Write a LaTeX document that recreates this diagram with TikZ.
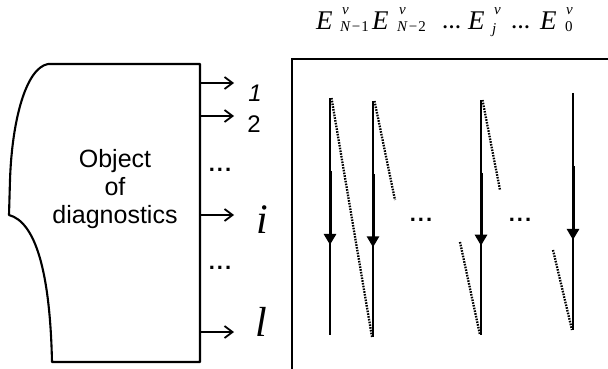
\documentclass[tikz,border=0pt]{standalone}
\usepackage{fontspec}
\setmainfont{Liberation Serif}
\newfontfamily\arialf{Liberation Sans}
\usetikzlibrary{arrows.meta,calc}
\tikzset{
  shapeline/.style={line width=2.1pt, line join=round},
  outarrow/.style={line width=1.8pt, -{Straight Barb[length=8pt,width=12pt,line width=1.8pt]}},
  vline/.style={line width=2.4pt},
  varrow/.style={line width=3pt, -{Triangle[length=11pt,width=12pt]}},
  dotline/.style={line width=2.3pt, dash pattern=on 1.6pt off 1.2pt},
  bigE/.style={anchor=base west, inner sep=0pt, font=\fontsize{27}{27}\selectfont\itshape},
  scr/.style={anchor=base west, inner sep=0pt, font=\fontsize{15}{15}\selectfont},
  hdots/.style={anchor=base west, inner sep=0pt, font=\bfseries\fontsize{19}{19}\selectfont},
  outlab/.style={inner sep=0pt, font=\arialf\fontsize{24}{24}\selectfont},
  biglab/.style={inner sep=0pt, font=\fontsize{42}{42}\selectfont\itshape},
  sdots/.style={inner sep=0pt, font=\arialf\bfseries\fontsize{22}{22}\selectfont},
}
\begin{document}
\begin{tikzpicture}[x=1pt,y=-1pt]
\useasboundingbox (0,0) rectangle (608,369);
% left shape (object of diagnostics)
\draw[shapeline] (48,64) -- (200,64) -- (200,362) -- (52,362)
  .. controls (50,270) and (35,222) .. (9,215) -- (10,180)
  .. controls (12,120) and (26,68) .. (48,64);
\node[inner sep=0pt, align=center, font=\arialf\fontsize{25}{28}\selectfont] (obj) at (115,189)
  {Object\\of\\diagnostics};
% output arrows
\coordinate (o1) at (200,83);
\coordinate (o2) at (200,116);
\coordinate (oi) at (200,215);
\coordinate (ol) at (200,332);
\coordinate (t1) at (234,83);
\coordinate (t2) at (234,116);
\coordinate (ti) at (234,215);
\coordinate (tl) at (234,332);
\draw[outarrow] (o1) -- (t1);
\draw[outarrow] (o2) -- (t2);
\draw[outarrow] (oi) -- (ti);
\draw[outarrow] (ol) -- (tl);
\node[outlab] (l1) at (255,93) {\itshape 1};
\node[outlab] (l2) at (254,124) {2};
\node[biglab] (li) at (262,220) {i};
\node[biglab] (ll) at (261,322) {l};
\node[sdots] (d1) at (220,170) {.\kern2pt.\kern2pt.};
\node[sdots] (d2) at (220,268) {.\kern2pt.\kern2pt.};
% right box
\draw[line width=2pt] (292,369) -- (292,59) -- (608,59);
% header
\node[bigE] (e1) at (316,30) {E};
\node[scr] (p1) at (342,15) {\itshape ν};
\node[scr] (s1) at (340,32) {\textit{N}\kern1pt−\kern1pt1};
\node[bigE] (e2) at (372,30) {E};
\node[scr] (p2) at (399,15) {\itshape ν};
\node[scr] (s2) at (397,32) {\textit{N}\kern1pt−\kern1pt2};
\node[hdots] (h1) at (442,29) {…};
\node[bigE] (e3) at (468,30) {E};
\node[scr] (p3) at (494,15) {\itshape ν};
\node[scr] (s3) at (492,34) {\itshape j};
\node[hdots] (h2) at (511,29) {…};
\node[bigE] (e4) at (540,30) {E};
\node[scr] (p4) at (566,15) {\itshape ν};
\node[scr] (s4) at (565,32) {0};
% vertical lines
\coordinate (a1) at (330,98);  \coordinate (b1) at (330,335);
\coordinate (a2) at (373,101); \coordinate (b2) at (373,337);
\coordinate (a3) at (481,100); \coordinate (b3) at (481,335);
\coordinate (a4) at (573,93);  \coordinate (b4) at (573,330);
\foreach \k in {1,2,3,4}{
  \draw[vline] (a\k) -- (b\k);
  \draw[varrow] ($(a\k)!0.31!(b\k)$) -- ($(a\k)!0.62!(b\k)$);
}
% dotted lines
\coordinate (c2) at (395,200);
\coordinate (c3a) at (460,242);
\coordinate (c3b) at (500,190);
\coordinate (c4) at (553,250);
\draw[dotline] ([xshift=1.5pt]a1) -- ([xshift=-1pt]b2);
\draw[dotline] ([xshift=1.5pt]a2) -- (c2);
\draw[dotline] (c3a) -- ([xshift=-1pt]b3);
\draw[dotline] ([xshift=1.5pt]a3) -- (c3b);
\draw[dotline] (c4) -- ([xshift=-1pt]b4);
\node[sdots] (m1) at (421,220) {.\kern2pt.\kern2pt.};
\node[sdots] (m2) at (520,220) {.\kern2pt.\kern2pt.};
\end{tikzpicture}
\end{document}
